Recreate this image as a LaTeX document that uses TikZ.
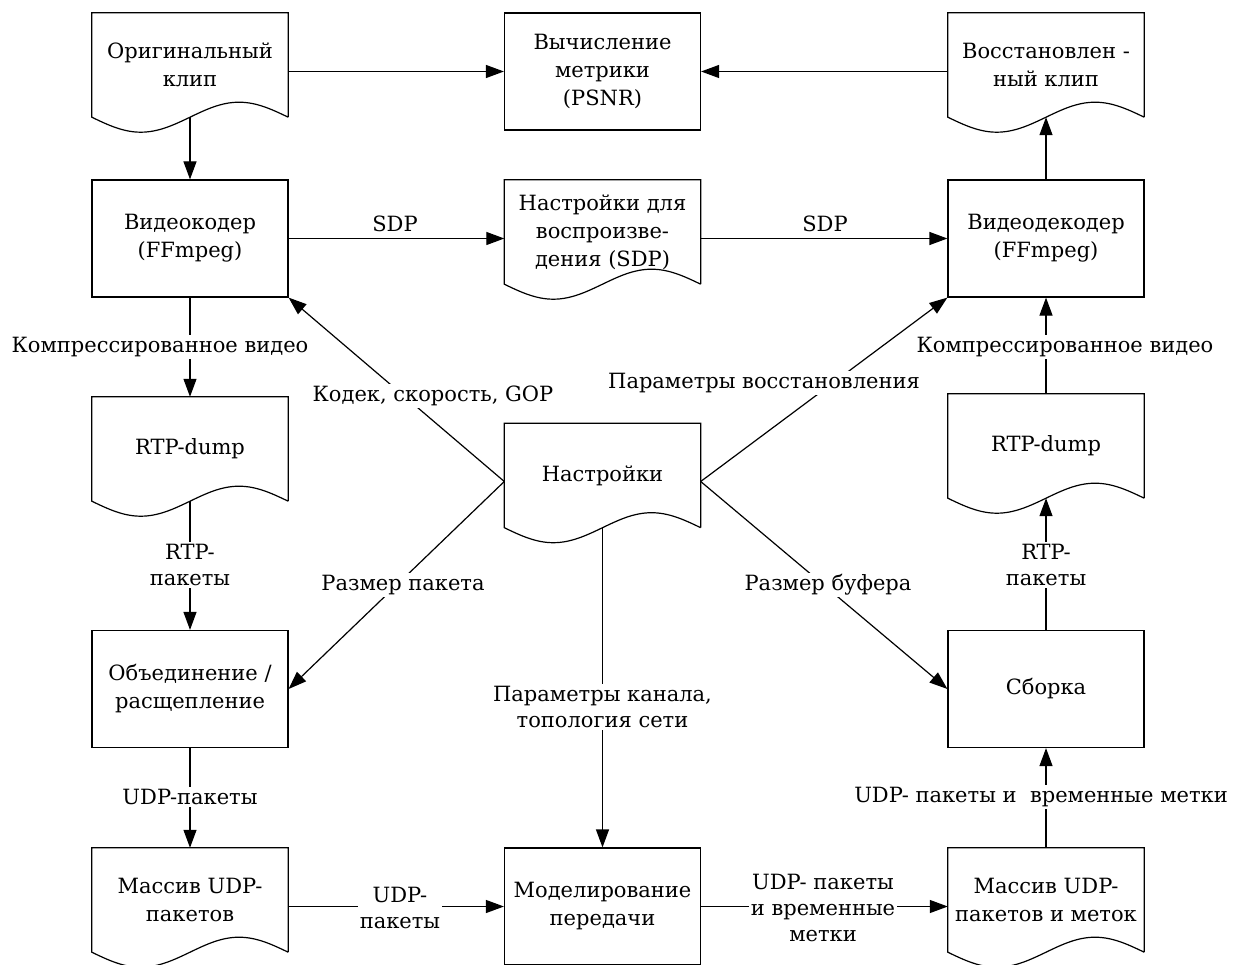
\documentclass[tikz,border=0pt]{standalone}
\usepackage{fontspec}
\setmainfont{DejaVu Serif}
\usetikzlibrary{arrows.meta,calc}
\tikzset{
  arr/.style={-{Triangle[length=18pt,width=13pt]}, line width=1.2pt},
  boxnode/.style={draw, line width=1.2pt, minimum width=196pt, minimum height=117pt, inner sep=0pt, align=center, font=\fontsize{21}{28}\selectfont},
  docnode/.style={minimum width=196pt, minimum height=104pt, inner sep=0pt, align=center, font=\fontsize{21}{28}\selectfont},
  lbl/.style={fill=white, inner sep=2pt, align=center, font=\fontsize{21}{26}\selectfont},
}
\newcommand\docshape[1]{\draw[line width=1.2pt] (#1.south east) -- (#1.north east) -- (#1.north west) -- (#1.south west)
  sin ($(#1.south west)+(49,15)$) cos (#1.south) sin ($(#1.south)+(49,-15)$) cos (#1.south east);}
\begin{document}
\begin{tikzpicture}[x=1pt,y=-1pt]
\useasboundingbox (0,0) rectangle (1238,965);
% nodes
\node[docnode] (orig) at (190,65) {Оригинальный\\клип};
\node[boxnode] (metric) at (602.5,71.5) {Вычисление\\метрики\\(PSNR)};
\node[docnode] (restored) at (1046,65) {Восстановлен -\\ный клип};
\node[boxnode] (coder) at (190,238.5) {Видеокодер\\(FFmpeg)};
\node[docnode] (sdp) at (602.5,232) {Настройки для\\воспроизве-\\дения (SDP)};
\node[boxnode] (decoder) at (1046,238.5) {Видеодекодер\\(FFmpeg)};
\node[docnode] (rtp1) at (190,449) {RTP-dump};
\node[docnode] (settings) at (602.5,475.5) {Настройки};
\node[docnode] (rtp2) at (1046,446) {RTP-dump};
\node[boxnode] (merge) at (190,689) {Объединение /\\расщепление};
\node[boxnode] (sborka) at (1046,689) {Сборка};
\node[docnode] (massiv1) at (190,900) {Массив UDP-\\пакетов};
\node[boxnode] (model) at (602.5,906.5) {Моделирование\\передачи};
\node[docnode] (massiv2) at (1046,900) {Массив UDP-\\пакетов и меток};
% document shapes
\docshape{orig}
\docshape{restored}
\docshape{sdp}
\docshape{rtp1}
\docshape{settings}
\docshape{rtp2}
\docshape{massiv1}
\docshape{massiv2}
% connectors
\coordinate (sw) at ($(settings.west)+(0,6)$);
\coordinate (se) at ($(settings.east)+(0,6)$);
\draw[arr] (metric.west -| orig.east) -- (metric.west);
\draw[arr] (metric.east -| restored.west) -- (metric.east);
\draw[arr] (orig.south) -- (coder.north);
\draw[arr] (decoder.north) -- (restored.south);
\draw[arr] (coder.east) -- (coder.east -| sdp.west);
\draw[arr] (decoder.west -| sdp.east) -- (decoder.west);
\draw[arr] (coder.south) -- (rtp1.north);
\draw[arr] (rtp2.north) -- (decoder.south);
\draw[arr] (rtp1.south) -- (merge.north);
\draw[arr] (sborka.north) -- (rtp2.south);
\draw[arr] (merge.south) -- (massiv1.north);
\draw[arr] (massiv2.north) -- (sborka.south);
\draw[arr] (sw) -- (coder.south east);
\draw[arr] (sw) -- (merge.east);
\draw[arr] (se) -- (decoder.south west);
\draw[arr] (se) -- (sborka.west);
\draw[arr] (settings.south) -- (model.north);
\draw[arr] (model.west -| massiv1.east) -- (model.west);
\draw[arr] (model.east) -- (model.east -| massiv2.west);
% labels
\node[lbl] (l1) at (395,224) {SDP};
\node[lbl] (l2) at (825,224) {SDP};
\node[lbl] (l3) at (160,347) {Компрессированное видео};
\node[lbl] (l4) at (1065,347) {Компрессированное видео};
\node[lbl] (l5) at (433,396) {Кодек, скорость, GOP};
\node[lbl] (l6) at (764,383) {Параметры восстановления};
\node[lbl] (l7) at (190,565) {RTP-\\пакеты};
\node[lbl] (l8) at (1046,565) {RTP-\\пакеты};
\node[lbl] (l9) at (403,585) {Размер пакета};
\node[lbl] (l10) at (828,585) {Размер буфера};
\node[lbl] (l11) at (602.5,707) {Параметры канала,\\топология сети};
\node[lbl] (l12) at (190,797) {UDP-пакеты};
\node[lbl] (l13) at (1041,797) {UDP- пакеты и\ \ временные метки};
\node[lbl] (l14) at (400,908) {UDP-\\пакеты};
\node[lbl] (l15) at (823,908) {UDP- пакеты\\и временные\\метки};
\end{tikzpicture}
\end{document}
